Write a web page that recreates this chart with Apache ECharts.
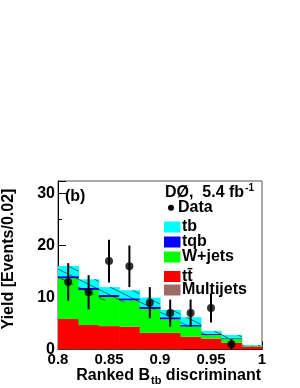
<!DOCTYPE html>
<html>
<head>
<meta charset="utf-8">
<script src="https://cdn.jsdelivr.net/npm/echarts@6/dist/echarts.min.js"></script>
<style>
html,body{margin:0;padding:0;background:#fff;}
#c{width:300px;height:388px;}
</style>
</head>
<body>
<div id="c"></div>
<script>
// ---- data ----
var binEdges = [0.80,0.82,0.84,0.86,0.88,0.90,0.92,0.94,0.96,0.98,1.00];
var multijets = [0.1,0.1,0.1,0.1,0.1,0.1,0.05,0.05,0.05,0.02];
var ttbar     = [5.77,4.6,4.4,4.3,3.1,3.1,2.41,2.05,1.25,0.53];
var wjets     = [7.83,6.75,5.6,5.05,4.6,2.6,1.94,0.7,0.8,0.1];
var tqb       = [0.4,0.45,0.4,0.4,0.45,0.4,0.3,0.2,0.15,0.05];
var tb        = [1.96,1.6,1.5,1.55,1.71,1.4,1.5,0.55,0.55,0.17];
var bkgUnc    = [3.6,3.0,2.6,2.3,2.3,1.8,1.7,0.8,0.6,0.2];
var dataVals  = [13,11,17,16,9,7,7,8,1];
var dataErr   = [3.6,3.3,4.1,4.0,3.0,2.6,2.6,2.8,1.0];
var yTicks    = [0,10,20,30];
var xTicks    = [0.8,0.85,0.9,0.95,1];

var FONT = "'Liberation Sans', Arial, Helvetica, sans-serif";
var components = [
  {name:'Multijets', vals:multijets, color:'#9c6b66'},
  {name:'tt', vals:ttbar, color:'#ff0000'},
  {name:'W+jets', vals:wjets, color:'#00ff00'},
  {name:'tqb', vals:tqb, color:'#0000ff'},
  {name:'tb', vals:tb, color:'#00ffff'}
];

var nb = binEdges.length - 1;
var cum = []; for (var i=0;i<nb;i++) cum.push(0);
var series = [];
components.forEach(function(c){
  var d = [];
  for (var i=0;i<nb;i++){
    d.push([binEdges[i], binEdges[i+1], cum[i], cum[i]+c.vals[i]]);
    cum[i] += c.vals[i];
  }
  series.push({
    type:'custom', name:c.name, data:d, silent:true,
    renderItem:function(params, api){
      var p0 = api.coord([api.value(0), api.value(3)]);
      var p1 = api.coord([api.value(1), api.value(2)]);
      return {type:'rect', shape:{x:p0[0], y:p0[1], width:p1[0]-p0[0]+0.6, height:p1[1]-p0[1]},
              style:{fill:c.color, stroke:null}};
    },
    z:2
  });
});

// hatched uncertainty band
var bandData = [];
for (var i=0;i<nb;i++) bandData.push([binEdges[i], binEdges[i+1], cum[i]-bkgUnc[i], cum[i]]);
series.push({
  type:'custom', data:bandData, silent:true, z:3,
  renderItem:function(params, api){
    var p0 = api.coord([api.value(0), api.value(3)]);
    var p1 = api.coord([api.value(1), api.value(2)]);
    var xL=p0[0], xR=p1[0], yT=p0[1], yB=p1[1];
    var s = 0.5, gap = 8;
    var cMin = yT - s*xR, cMax = yB - s*xL;
    var k0 = Math.ceil(cMin/gap), k1 = Math.floor(cMax/gap);
    var children = [];
    for (var k=k0;k<=k1;k++){
      var cc = k*gap;
      var xa = Math.max(xL, (yT-cc)/s), xb = Math.min(xR, (yB-cc)/s);
      if (xb > xa) children.push({type:'line', shape:{x1:xa,y1:cc+s*xa,x2:xb,y2:cc+s*xb},
        style:{stroke:'#000', lineWidth:0.7, opacity:0.8}});
    }
    return {type:'group', children:children};
  }
});

// data points with error bars
var centers = []; for (var i=0;i<nb;i++) centers.push((binEdges[i]+binEdges[i+1])/2);
var ptData = [], errData = [];
for (var i=0;i<dataVals.length;i++){
  ptData.push([centers[i], dataVals[i]]);
  errData.push([centers[i], dataVals[i]-dataErr[i], dataVals[i]+dataErr[i]]);
}
series.push({
  type:'custom', data:errData, silent:true, z:4,
  renderItem:function(params, api){
    var a = api.coord([api.value(0), api.value(1)]);
    var b = api.coord([api.value(0), api.value(2)]);
    return {type:'line', shape:{x1:a[0],y1:a[1],x2:b[0],y2:b[1]}, style:{stroke:'#000', lineWidth:2}};
  }
});
series.push({type:'scatter', data:ptData, symbol:'circle', symbolSize:8,
  itemStyle:{color:'#000'}, silent:true, z:5});

var legendRows = [
  {name:'tb', color:'#00ffff', y:227},
  {name:'tqb', color:'#0000ff', y:242},
  {name:'W+jets', color:'#00ff00', y:257},
  {name:'tt\u0304', color:'#ff0000', y:276.5},
  {name:'Multijets', color:'#9c6b66', y:290}
];
var graphics = [];
legendRows.forEach(function(r){
  graphics.push({type:'rect', shape:{x:164, y:r.y-5.5, width:16.5, height:11}, style:{fill:r.color}});
  graphics.push({type:'text', x:182, y:r.y, style:{text:r.name, font:'bold 16px '+FONT, fill:'#000', verticalAlign:'middle', align:'left'}});
});
graphics.push({type:'circle', shape:{cx:171, cy:207.7, r:3}, style:{fill:'#000'}});
graphics.push({type:'text', x:178, y:208, style:{text:'Data', font:'bold 16px '+FONT, fill:'#000', verticalAlign:'middle'}});
graphics.push({type:'text', x:165, y:192.5, style:{
  text:'{a|D\u00d8,  5.4 fb}{s|-1}', verticalAlign:'middle',
  rich:{a:{font:'bold 16px '+FONT, fill:'#000', lineHeight:18}, s:{font:'bold 10px '+FONT, fill:'#000', lineHeight:18, padding:[0,0,8,1]}}
}});
graphics.push({type:'text', x:65, y:197, style:{text:'(b)', font:'bold 16px '+FONT, fill:'#000', verticalAlign:'middle'}});
graphics.push({type:'text', x:261, y:376, style:{
  text:'{a|Ranked B}{s|tb}{a| discriminant}', align:'right', verticalAlign:'middle',
  rich:{a:{font:'bold 16px '+FONT, fill:'#000', lineHeight:20}, s:{font:'bold 11px '+FONT, fill:'#000', lineHeight:20, padding:[9,0,0,1]}}
}});
graphics.push({type:'text', x:9, y:259, rotation:Math.PI/2, style:{
  text:'Yield [Events/0.02]', font:'bold 16px '+FONT, fill:'#000', align:'center', verticalAlign:'middle'}});

var chart = echarts.init(document.getElementById('c'), null, {renderer:'canvas'});
chart.setOption({
  animation:false,
  backgroundColor:'#fff',
  grid:{left:58, top:181, width:204, height:168.5, show:true, borderColor:'#555', borderWidth:1, backgroundColor:'transparent'},
  xAxis:{type:'value', min:0.8, max:1, interval:0.05,
    axisLine:{show:true, lineStyle:{color:'#000', width:1}},
    axisTick:{show:true, inside:true, length:8, lineStyle:{color:'#000'}},
    minorTick:{show:true, splitNumber:5, length:4, lineStyle:{color:'#000'}},
    splitLine:{show:false},
    axisLabel:{margin:3, color:'#000', fontFamily:FONT, fontWeight:'bold', fontSize:15,
      showMinLabel:true, showMaxLabel:true,
      formatter:function(v){ for (var i=0;i<xTicks.length;i++) if (Math.abs(v-xTicks[i])<1e-6) return String(xTicks[i]); return ''; }}
  },
  yAxis:{type:'value', min:0, max:32.4, interval:10,
    axisLine:{show:true, lineStyle:{color:'#000', width:1}},
    axisTick:{show:true, inside:true, length:8, lineStyle:{color:'#000'}},
    minorTick:{show:true, splitNumber:2, length:4, lineStyle:{color:'#000'}},
    splitLine:{show:false},
    axisLabel:{margin:3, color:'#000', fontFamily:FONT, fontWeight:'bold', fontSize:16,
      formatter:function(v){ return yTicks.indexOf(Math.round(v))>=0 && Math.abs(v-Math.round(v))<1e-6 ? String(Math.round(v)) : ''; }}
  },
  series:series,
  graphic:graphics
});
</script>
</body>
</html>
